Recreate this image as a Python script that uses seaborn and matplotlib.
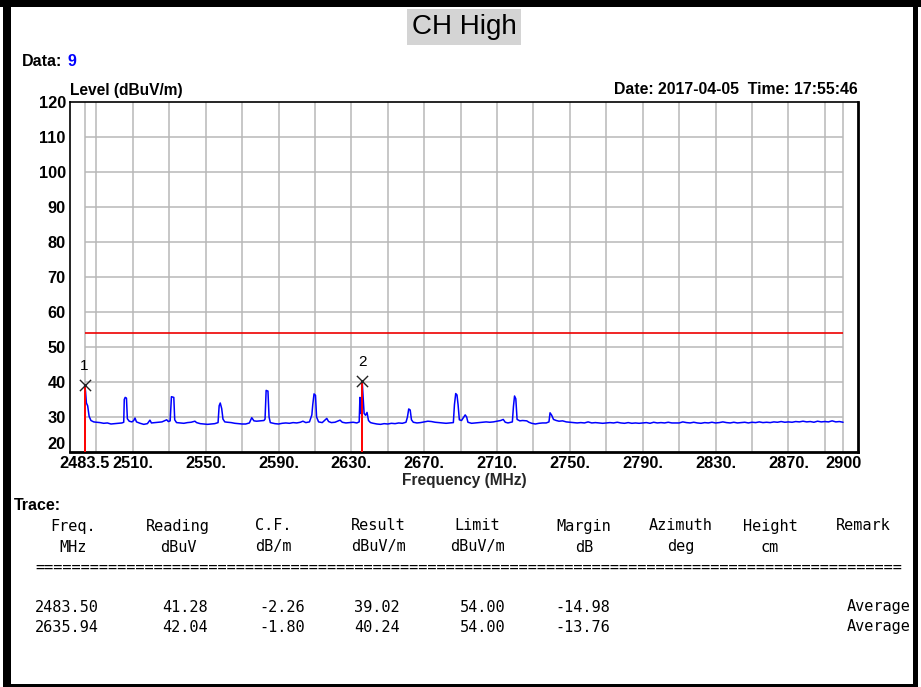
import matplotlib
matplotlib.use('Agg')
import matplotlib.pyplot as plt
from matplotlib.patches import Rectangle
import seaborn as sns

W, H = 921, 687

# trace (MHz, dBuV/m)
trace_freq = [
    2483.5, 2484.0, 2484.5, 2485.2, 2486.0, 2487.0, 2488.5, 2490, 2492, 2494,
    2496, 2498, 2500, 2502, 2504, 2505.0, 2505.3, 2505.8, 2506.5, 2507.0,
    2508, 2509.5, 2510.5, 2511.2, 2512, 2514, 2516, 2518, 2519.4, 2520.2,
    2522, 2524, 2526, 2528.6, 2529.5, 2530.5, 2531.2, 2532.5, 2533.0, 2534,
    2536, 2538, 2540, 2542, 2544.1, 2545, 2547, 2549, 2551, 2553,
    2555, 2556.8, 2557.4, 2558.0, 2558.8, 2559.5, 2560.5, 2562, 2564, 2566,
    2568, 2570, 2572, 2574, 2575.3, 2576.5, 2578, 2580, 2582, 2582.6,
    2583.2, 2584.2, 2584.8, 2585.5, 2588, 2590, 2592, 2594, 2596, 2598,
    2600, 2602, 2603.4, 2605, 2607, 2608.3, 2608.8, 2609.5, 2610.3, 2610.9,
    2612, 2614, 2616.5, 2617.5, 2619, 2621, 2623.8, 2625, 2627, 2629,
    2631, 2633, 2634.3, 2634.7, 2635.2, 2635.6, 2635.94, 2636.4, 2637.0, 2637.8,
    2638.6, 2639.4, 2640.5, 2642, 2644, 2646, 2648, 2650, 2652, 2654,
    2656, 2658, 2660, 2660.8, 2661.5, 2662.3, 2663, 2664, 2666, 2668,
    2670, 2672, 2674, 2676, 2678, 2680, 2682, 2684, 2686, 2686.6,
    2687.3, 2688.0, 2688.6, 2689.3, 2690.5, 2692.5, 2693.3, 2694, 2696, 2698,
    2700, 2702, 2704, 2706, 2708, 2710, 2712, 2713.4, 2714.5, 2716,
    2718.4, 2719.0, 2719.6, 2720.3, 2721, 2722.5, 2724, 2726.3, 2727.5, 2729,
    2731, 2733, 2735, 2737, 2738.5, 2739.1, 2740, 2741, 2742.5, 2744,
    2746, 2748, 2750, 2752, 2754, 2756, 2758, 2760, 2762, 2764,
    2766, 2768, 2770, 2772, 2774, 2776, 2778, 2780, 2782, 2784,
    2786, 2788, 2790, 2792, 2794, 2796, 2798, 2800, 2802, 2804,
    2806, 2808, 2810, 2812, 2814, 2816, 2818, 2820, 2822, 2824,
    2826, 2828, 2830, 2832, 2834, 2836, 2838, 2840, 2842, 2844,
    2846, 2848, 2850, 2852, 2854, 2856, 2858, 2860, 2862, 2864,
    2866, 2868, 2870, 2872, 2874, 2876, 2878, 2880, 2882, 2884,
    2886, 2888, 2890, 2892, 2894, 2896, 2898, 2900,
]
trace_level = [
    39.0, 37.5, 34.0, 33.2, 30.2, 29.0, 28.6, 28.5, 28.4, 28.2,
    28.3, 28.0, 28.1, 28.2, 28.3, 28.5, 35.0, 35.6, 35.4, 29.5,
    28.8, 28.6, 29.0, 29.7, 28.6, 28.2, 27.9, 28.1, 29.1, 28.3,
    28.4, 28.5, 28.6, 29.2, 28.7, 28.9, 35.8, 35.6, 29.2, 28.4,
    28.3, 28.2, 28.4, 28.5, 28.8, 28.4, 28.1, 28.0, 27.9, 28.0,
    28.1, 28.4, 33.2, 34.0, 32.4, 29.4, 28.6, 28.5, 28.4, 28.2,
    28.1, 28.0, 28.0, 28.3, 29.8, 28.9, 28.8, 28.9, 29.0, 29.4,
    37.6, 37.4, 30.0, 28.4, 28.1, 28.0, 28.2, 28.3, 28.2, 28.4,
    28.3, 28.5, 28.8, 28.4, 28.6, 30.6, 33.5, 36.6, 36.2, 30.0,
    28.6, 28.4, 29.6, 28.7, 28.4, 28.5, 29.1, 28.5, 28.3, 28.4,
    28.5, 28.3, 28.6, 35.6, 31.0, 34.0, 40.2, 36.0, 31.0, 30.5,
    31.3, 29.0, 28.4, 28.2, 28.0, 27.9, 28.1, 28.0, 28.2, 28.1,
    28.3, 28.2, 28.5, 30.0, 32.3, 32.0, 29.2, 28.5, 28.3, 28.4,
    28.6, 28.8, 28.7, 28.5, 28.4, 28.3, 28.2, 28.3, 28.4, 33.5,
    36.7, 36.3, 33.5, 29.2, 29.0, 30.6, 30.0, 28.5, 28.2, 28.3,
    28.4, 28.5, 28.6, 28.5, 28.6, 28.8, 29.0, 29.3, 28.5, 28.3,
    28.6, 33.0, 36.0, 35.2, 29.3, 28.9, 29.0, 28.9, 28.5, 28.2,
    28.0, 28.2, 28.3, 28.3, 28.6, 31.2, 30.5, 29.3, 29.0, 28.8,
    28.9, 28.6, 28.5, 28.4, 28.3, 28.4, 28.3, 28.6, 28.3, 28.4,
    28.3, 28.2, 28.3, 28.4, 28.3, 28.5, 28.3, 28.2, 28.4, 28.2,
    28.3, 28.2, 28.3, 28.4, 28.2, 28.5, 28.3, 28.4, 28.3, 28.5,
    28.3, 28.3, 28.3, 28.6, 28.4, 28.3, 28.5, 28.3, 28.2, 28.4,
    28.3, 28.5, 28.3, 28.4, 28.6, 28.4, 28.3, 28.5, 28.3, 28.4,
    28.5, 28.3, 28.5, 28.4, 28.6, 28.4, 28.5, 28.4, 28.6, 28.5,
    28.7, 28.5, 28.6, 28.5, 28.7, 28.6, 28.8, 28.6, 28.7, 28.5,
    28.8, 28.6, 28.7, 28.6, 28.9, 28.6, 28.7, 28.5,
]

limit_level = 54.0
y_ticks = [20, 30, 40, 50, 60, 70, 80, 90, 100, 110, 120]
x_ticks = [2483.5, 2510, 2550, 2590, 2630, 2670, 2710, 2750, 2790, 2830, 2870, 2900]
x_tick_labels = ['2483.5', '2510.', '2550.', '2590.', '2630.', '2670.', '2710.',
                 '2750.', '2790.', '2830.', '2870.', '2900']
x_grid = [2483.5, 2490, 2510, 2530, 2550, 2570, 2590, 2610, 2630, 2650, 2670,
          2690, 2710, 2730, 2750, 2770, 2790, 2810, 2830, 2850, 2870, 2890, 2900]

# marker table
marker_ids = ['1', '2']
marker_freq = [2483.50, 2635.94]
marker_reading = [41.28, 42.04]
marker_cf = [-2.26, -1.80]
marker_result = [39.02, 40.24]
marker_limit = [54.00, 54.00]
marker_margin = [-14.98, -13.76]
marker_remark = ['Average', 'Average']

header_top = ['Freq.', 'Reading', 'C.F.', 'Result', 'Limit', 'Margin', 'Azimuth', 'Height', 'Remark']
header_unit = ['MHz', 'dBuV', 'dB/m', 'dBuV/m', 'dBuV/m', 'dB', 'deg', 'cm', '']

SANS = ['Liberation Sans', 'DejaVu Sans']
MONO = ['DejaVu Sans Mono']


def px(x, y):
    return x / W, 1 - y / H


def draw_frame(fig):
    # black page border around the report
    for x, y, w, h in [(0, 0, W, 7), (3, 0, 8, H), (913, 0, 5, H), (3, 684, 915, 3)]:
        fig.add_artist(Rectangle((x / W, 1 - (y + h) / H), w / W, h / H,
                                 transform=fig.transFigure, color='black', lw=0))


def draw_header(fig):
    fig.text(*px(464, 27), 'CH High', ha='center', va='center', fontsize=20,
             family=SANS, bbox=dict(facecolor='#d4d4d4', edgecolor='none', pad=3.5))
    fig.text(*px(22, 62), 'Data:', ha='left', va='center', fontsize=11.5,
             fontweight='bold', family=SANS)
    fig.text(*px(67, 62), '9', ha='left', va='center', fontsize=11.5,
             fontweight='bold', family=SANS, color='#0000ff')
    fig.text(*px(70, 91), 'Level (dBuV/m)', ha='left', va='center', fontsize=11.2,
             fontweight='bold', family=SANS)
    fig.text(*px(858, 90), 'Date: 2017-04-05  Time: 17:55:46', ha='right', va='center',
             fontsize=11.4, fontweight='bold', family=SANS)


def draw_spectrum(fig):
    ax = fig.add_axes([70 / W, 1 - 452 / H, 788 / W, 350 / H])
    ax.set_xlim(2475.5, 2908.2)
    ax.set_ylim(20, 120)
    ax.vlines(x_grid, 20, 120, color='#b8b8b8', lw=1.1, zorder=1)
    ax.hlines(y_ticks[1:-1], x_grid[0], x_grid[-1], color='#b8b8b8', lw=1.1, zorder=1)
    ax.hlines(limit_level, x_grid[0], x_grid[-1], color='#ee0000', lw=1.2, zorder=2)

    sns.lineplot(x=trace_freq, y=trace_level, ax=ax, color='#0000ff', lw=1.1,
                 estimator=None, sort=False, zorder=3)

    ax.vlines(marker_freq, 20, marker_result, color='#ff0000', lw=1.4, zorder=4)
    ax.scatter(marker_freq, marker_result, marker='x', s=65, color='#222222',
               lw=1.0, zorder=5)
    for mid, f, r in zip(marker_ids, marker_freq, marker_result):
        ax.text(f, r + 5.5, mid, ha='center', va='center', fontsize=11, family=SANS)

    ax.set_xticks(x_ticks)
    ax.set_xticklabels(x_tick_labels, fontweight='bold', family=SANS, fontsize=11.8)
    ax.set_yticks(y_ticks)
    ax.set_yticklabels([str(v) for v in y_ticks], fontweight='bold', family=SANS, fontsize=11.8)
    ax.get_yticklabels()[0].set_va('bottom')
    ax.tick_params(length=0, pad=3, colors='black')
    ax.set_xlabel('Frequency (MHz)', fontweight='bold', family=SANS, fontsize=11.2, labelpad=1)
    ax.set_ylabel('')
    for side in ['left', 'top']:
        ax.spines[side].set_linewidth(1.2)
    for side in ['right', 'bottom']:
        ax.spines[side].set_linewidth(2.0)
    for spine in ax.spines.values():
        spine.set_color('black')
        spine.set_visible(True)
    return ax


def draw_table(fig):
    fig.text(*px(14, 506), 'Trace:', ha='left', va='center', fontsize=11.5,
             fontweight='bold', family=SANS)
    col_centers = [73, 178, 273, 378, 477, 584, 681, 770, 863]
    for cx, top, unit in zip(col_centers, header_top, header_unit):
        fig.text(*px(cx, 526), top, ha='center', va='center', fontsize=11, family=MONO)
        fig.text(*px(cx, 547), unit, ha='center', va='center', fontsize=11, family=MONO)
    fig.text(*px(35, 567), '=' * 95, ha='left', va='center', fontsize=11, family=MONO)

    right_edges = [99, 208, 305, 400, 505, 610]
    for i, row_y in enumerate([607, 627]):
        values = [marker_freq[i], marker_reading[i], marker_cf[i], marker_result[i],
                  marker_limit[i], marker_margin[i]]
        for rx, v in zip(right_edges, values):
            fig.text(*px(rx, row_y), f'{v:.2f}', ha='right', va='center',
                     fontsize=11, family=MONO)
        fig.text(*px(911, row_y), marker_remark[i], ha='right', va='center',
                 fontsize=11, family=MONO)


def main():
    sns.set_style('white')
    plt.rcParams['text.color'] = 'black'
    fig = plt.figure(figsize=(W / 100, H / 100), dpi=100)
    draw_frame(fig)
    draw_header(fig)
    draw_spectrum(fig)
    draw_table(fig)
    fig.savefig('out.png', dpi=100)


if __name__ == '__main__':
    main()
